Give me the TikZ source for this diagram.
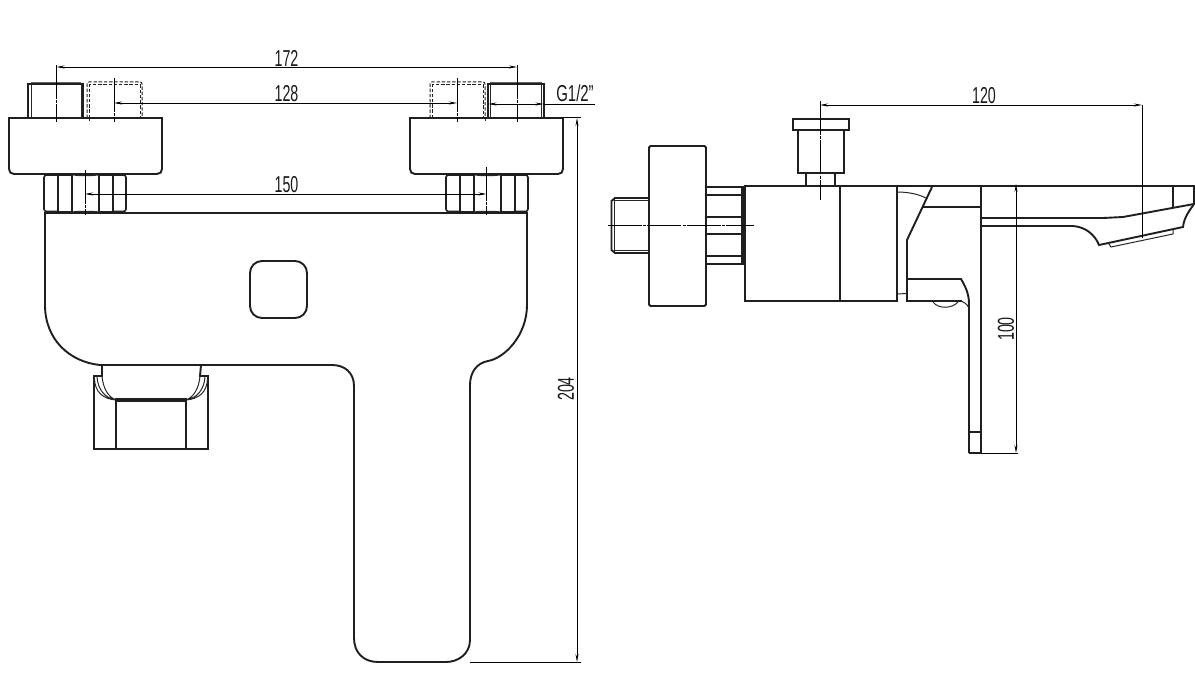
\documentclass[tikz,border=0pt]{standalone}
\usepackage{fontspec}
\setmainfont{Liberation Sans}
\usetikzlibrary{arrows.meta}
\tikzset{
  x=1pt,y=-1pt,
  part/.style={line width=1.9pt,line join=miter,black!88},
  hexline/.style={line width=1.6pt,black!88},
  fine/.style={line width=1pt,black!85},
  hidden/.style={line width=1pt,black!88,dash pattern=on 3.4pt off 1.8pt},
  centre/.style={line width=.8pt,black,dash pattern=on 34pt off 1.2pt on 3pt off 1.2pt},
  dim/.style={line width=.8pt,black,{Stealth[length=8pt,width=3pt]}-{Stealth[length=8pt,width=3pt]}},
  ext/.style={line width=.8pt,black},
  lbl/.style={font=\fontsize{23}{23}\selectfont,inner sep=0pt,xscale=.62,text=black!90},
  lblv/.style={font=\fontsize{23}{23}\selectfont,inner sep=0pt,yscale=.62,rotate=90,text=black!90},
  hexnut/.pic={
    \draw[hexline,rounded corners=2.5pt] (14,1) -- (0,1) -- (0,37.5) -- (14,37.5);
    \draw[hexline,rounded corners=2.5pt] (69,1) -- (82,1) -- (82,37.5) -- (69,37.5);
    \draw[hexline] (14,0) -- (14,38) (28,0) -- (28,38) (55,0) -- (55,38) (69,0) -- (69,38);
    \draw[line width=2.6pt,black!88] (14,1) -- (28,1) (55,1) -- (69,1) (14,38) -- (28,38) (55,38) -- (69,38);
    \draw[fine] (28,.8) .. controls (34,2) and (49,2) .. (55,.8) (28,38) .. controls (34,37) and (49,37) .. (55,38);
  },
}
\begin{document}
\begin{tikzpicture}
\useasboundingbox (0,0) rectangle (1195,685);
%--- front view: body
\draw[part] (45,213) -- (527,213) -- (527,305)
  .. controls (527,335) and (505,358) .. (488,361)
  .. controls (477,363) and (470,372) .. (470,385)
  -- (470,640) .. controls (470,654) and (458,662) .. (446,662)
  -- (378,662) .. controls (363,662) and (354,652) .. (354,638)
  -- (354,386) .. controls (354,373) and (345,365) .. (332,365)
  -- (100,365) .. controls (70,362) and (45,340) .. (45,305) -- cycle;
\draw[part,rounded corners=12pt] (250,261) rectangle (307,318);
%--- front view: left connection
\draw[part] (9,118) -- (162,118) -- (162,169) .. controls (162,172) and (160,174) .. (157,174) -- (14,174) .. controls (11,174) and (9,172) .. (9,169) -- cycle;
\draw[part] (28,118) -- (28,84) -- (83,84) -- (83,118);
\draw[fine] (31,118) -- (31,84) (81,118) -- (81,84);
\draw[line width=.8pt,black!60] (31,82.5) -- (81,82.5);
\draw[hidden,rounded corners=2pt] (87,118) -- (87,82) -- (142,82) -- (142,118);
\draw[hidden] (89.5,118) -- (89.5,85) -- (140,85) -- (140,118);
\pic at (44,174) {hexnut};
%--- front view: right connection
\draw[part] (410,118) -- (563,118) -- (563,169) .. controls (563,172) and (561,174) .. (558,174) -- (415,174) .. controls (412,174) and (410,172) .. (410,169) -- cycle;
\draw[part] (488,118) -- (488,84) -- (544,84) -- (544,118);
\draw[fine] (490.5,118) -- (490.5,84) (541,118) -- (541,84);
\draw[line width=.8pt,black!60] (490,82.5) -- (542,82.5);
\draw[hidden,rounded corners=2pt] (430,118) -- (430,82) -- (485,82) -- (485,118);
\draw[hidden] (432.5,118) -- (432.5,85) -- (483,85) -- (483,118);
\pic at (446,174) {hexnut};
%--- front view: diverter knob
\draw[part] (102,365) -- (102,376) -- (94,376) -- (94,449) -- (208,449) -- (208,376) -- (200,376) -- (201,365);
\draw[part] (116,449) -- (116,400) (186,449) -- (186,400);
\draw[line width=3.2pt,black!88] (115,400) -- (187,400);
\draw[fine] (102,376) .. controls (103,388) and (108,397) .. (116,400)
  (97,377) .. controls (98,390) and (105,398) .. (116,400)
  (94.5,379) .. controls (95,392) and (103,399) .. (116,400)
  (200,376) .. controls (199,388) and (194,397) .. (186,400)
  (205,377) .. controls (204,390) and (197,398) .. (186,400)
  (207.5,379) .. controls (207,392) and (199,399) .. (186,400);
%--- side view: connection
\draw[part,rounded corners=1.5pt] (649,146) rectangle (706,306);
\draw[part] (649,198) -- (615,198) -- (611.5,201) -- (611.5,250) -- (615,253) -- (649,253);
\draw[fine] (615,200.5) -- (649,200.5) (615,250.5) -- (649,250.5) (614.5,199) -- (614.5,252);
\draw[part] (707,187) -- (745,187) (707,264) -- (745,264);
\draw[part] (707,195) -- (743,195) (707,217) -- (743,217) (707,234) -- (743,234) (707,256) -- (743,256);
\draw[line width=5pt,black!88] (743,187) -- (743,265);
%--- side view: body and knob
\draw[part] (745,186) rectangle (897,301);
\draw[part] (840,186) -- (840,301);
\draw[part] (793,119) rectangle (849,130);
\draw[part] (798,130) -- (798,173) -- (844,173) -- (844,130);
\draw[part] (806,173) -- (806,186) (835,173) -- (835,186);
%--- side view: spout and plate
\draw[part] (897,186) -- (1194,186) -- (1194,205);
\draw[part] (1173,186) -- (1173,208);
\draw[part] (932,187) -- (907,240) -- (907,301) -- (962,301);
\draw[part] (907,279) -- (961,279) .. controls (965,286) and (969,293) .. (969,304) -- (969,453);
\draw[part] (981,186) -- (981,453) -- (969,453);
\draw[part] (969,432) -- (981,432);
\draw[part] (923,207) -- (981,207);
\draw[part] (981,218) -- (1103,218) -- (1123,217) -- (1194,204);
\draw[part] (981,226) -- (1073,226) .. controls (1086,227) and (1095,235) .. (1099,245)
  -- (1183,227) .. controls (1184,217) and (1190,210) .. (1194,204);
\draw[fine] (1109,244) -- (1111,247) -- (1173,234) -- (1173,230);
\draw[fine] (897,192) .. controls (908,192) and (918,194) .. (926,198);
\draw[fine] (897,294) -- (907,293.5);
\draw[fine] (933,302) .. controls (938,309) and (952,309) .. (958,302);
\draw[fine] (961,301) .. controls (966,303) and (969,306) .. (969,310);
%--- centre lines
\coordinate (cA1) at (56.5,65);  \coordinate (cA2) at (56.5,122);
\coordinate (cB1) at (114,78);   \coordinate (cB2) at (114,122);
\coordinate (cC1) at (85,170);   \coordinate (cC2) at (85,215);
\coordinate (cD1) at (517,65);   \coordinate (cD2) at (517,122);
\coordinate (cE1) at (457,78);   \coordinate (cE2) at (457,122);
\coordinate (cF1) at (486.5,167);\coordinate (cF2) at (486.5,215);
\coordinate (cG1) at (608,225);  \coordinate (cG2) at (754,225);
\coordinate (cH1) at (820,101);  \coordinate (cH2) at (820,200);
\foreach \a/\b in {cA1/cA2,cB1/cB2,cC1/cC2,cD1/cD2,cE1/cE2,cF1/cF2,cG1/cG2,cH1/cH2}
  \draw[centre] (\a) -- (\b);
\draw[hidden] (89,118) -- (89,122) (485,118) -- (485,122);
%--- dimensions
\coordinate (d172a) at (56.5,67);  \coordinate (d172b) at (517,67);
\coordinate (d128a) at (114,103);  \coordinate (d128b) at (457,103);
\coordinate (d150a) at (85,194);   \coordinate (d150b) at (486.5,194);
\coordinate (dGa) at (488.5,104);  \coordinate (dGb) at (543.5,104); \coordinate (dGc) at (595,104);
\coordinate (d204a) at (577,118);  \coordinate (d204b) at (577,662);
\coordinate (e204a) at (563,117);  \coordinate (e204b) at (581,117);
\coordinate (e204c) at (470,662);  \coordinate (e204d) at (581,662);
\coordinate (d120a) at (820,105);  \coordinate (d120b) at (1142,105); \coordinate (e120) at (1142,238);
\coordinate (d100a) at (1016,184); \coordinate (d100b) at (1016,453);
\coordinate (e100a) at (981,453);  \coordinate (e100b) at (1018,453);
\draw[dim] (d172a) -- (d172b);
\draw[dim] (d128a) -- (d128b);
\draw[dim] (d150a) -- (d150b);
\draw[dim] (dGa) -- (dGb);
\draw[ext] (dGb) -- (dGc);
\draw[dim] (d204a) -- (d204b);
\draw[ext] (e204a) -- (e204b);
\draw[ext] (e204c) -- (e204d);
\draw[dim] (d120a) -- (d120b);
\draw[ext] (d120b) -- (e120);
\draw[dim] (d100a) -- (d100b);
\draw[ext] (e100a) -- (e100b);
%--- labels
\node[lbl] (t172) at (286.5,58) {172};
\node[lbl] (t128) at (286.5,94) {128};
\node[lbl] (t150) at (286.5,185) {150};
\node[lbl,xscale=1.05] (tG) at (575,93) {G1/2"};
\node[lbl] (t120) at (984,96) {120};
\node[lblv] (t204) at (566,389) {204};
\node[lblv] (t100) at (1006,329) {100};
\end{tikzpicture}
\end{document}
